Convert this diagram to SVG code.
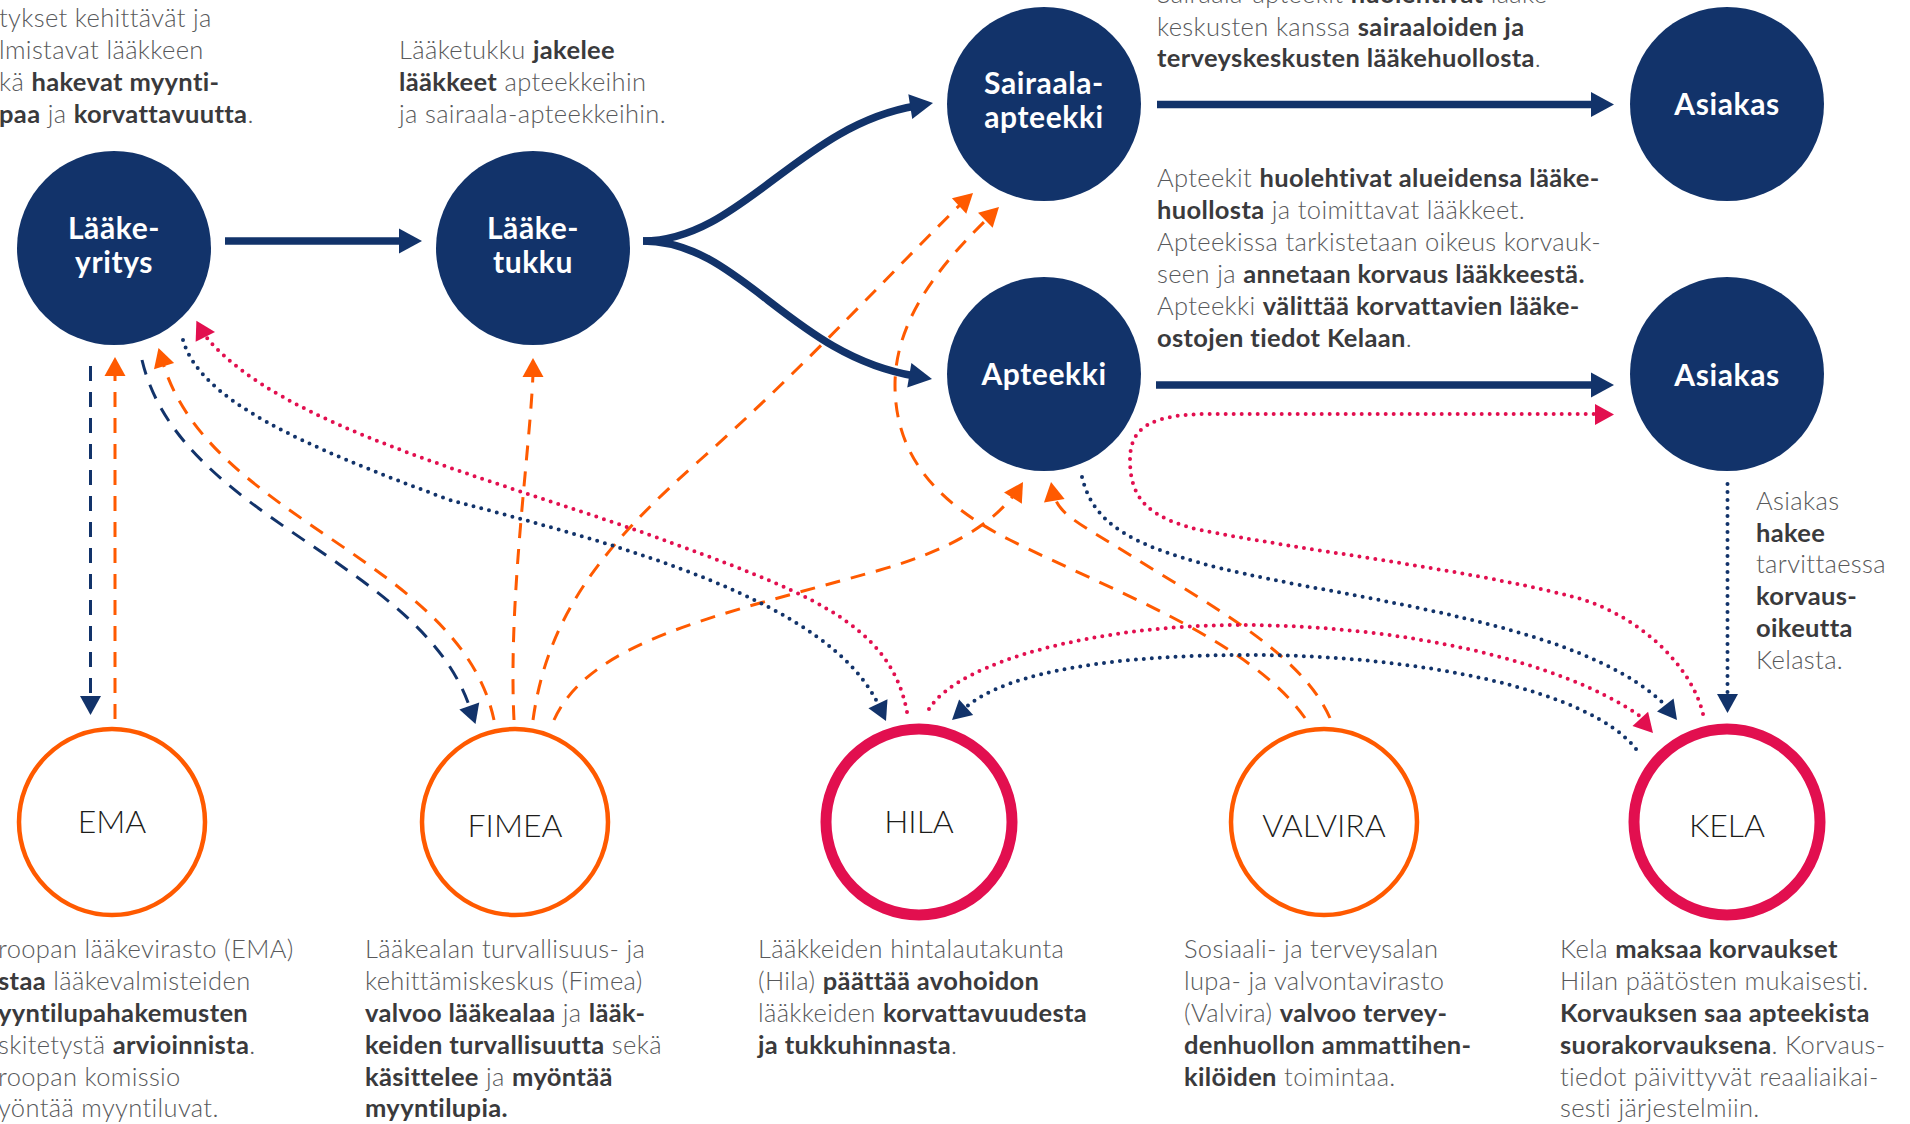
<svg xmlns="http://www.w3.org/2000/svg" xmlns:xlink="http://www.w3.org/1999/xlink" width="1910" height="1124" viewBox="0 0 1910 1124">
<style>
.t{font-family:Lato,"Noto Sans","Liberation Sans",sans-serif;font-size:25.5px;letter-spacing:0.35px;font-weight:300;fill:#58595b}
.b{font-weight:700;fill:#3a3a3c}
.nl{font-family:Lato,"Noto Sans","Liberation Sans",sans-serif;font-size:30px;letter-spacing:0.6px;font-weight:700;fill:#ffffff;text-anchor:middle}
.rl{font-family:Lato,"Noto Sans","Liberation Sans",sans-serif;font-size:32px;font-weight:300;fill:#1d1d1b;text-anchor:middle}
.navy{fill:#12336a}
.ring-o{fill:#ffffff;stroke:#ff5a00;stroke-width:4.5}
.ring-r{fill:#ffffff;stroke:#e20f4f;stroke-width:11}
.thick{fill:none;stroke:#12336a;stroke-width:7.5}
.dn{fill:none;stroke:#12336a;stroke-width:3;stroke-dasharray:15 11}
.do{fill:none;stroke:#ff5a00;stroke-width:3;stroke-dasharray:15 11}
.pn{fill:none;stroke:#12336a;stroke-width:4;stroke-linecap:round;stroke-dasharray:0 8}
.pr{fill:none;stroke:#e20f4f;stroke-width:4;stroke-linecap:round;stroke-dasharray:0 8}
.an{fill:#12336a}
.ao{fill:#ff5a00}
.ar{fill:#e20f4f}
</style>
<defs>
<path id="ah" d="M0,0 L-19,-10.5 L-19,10.5 Z"/>
<path id="ahT" d="M0,0 L-23,-12.5 L-23,12.5 Z"/>
</defs>

<g id="connectors">
<path class="thick" d="M225,241 L405,241"/>
<use xlink:href="#ahT" class="an" transform="translate(422,241)"/>
<path class="thick" d="M643,241 C 740,241 800,125 916,106"/>
<use xlink:href="#ahT" class="an" transform="translate(933,103) rotate(-9)"/>
<path class="thick" d="M643,241 C 740,241 790,355 915,376"/>
<use xlink:href="#ahT" class="an" transform="translate(932,379) rotate(9.5)"/>
<path class="thick" d="M1157,104.5 L1596,104.5"/>
<use xlink:href="#ahT" class="an" transform="translate(1614,104.5)"/>
<path class="thick" d="M1156,385 L1596,385"/>
<use xlink:href="#ahT" class="an" transform="translate(1614,385)"/>

<path class="dn" d="M90.5,366 L90.5,700"/>
<use xlink:href="#ah" class="an" transform="translate(90.5,715) rotate(90)"/>
<path class="do" d="M115,719 L115,372"/>
<use xlink:href="#ah" class="ao" transform="translate(115,357) rotate(-90)"/>

<path class="dn" d="M142,360 C 180,520 420,560 470,708"/>
<use xlink:href="#ah" class="an" transform="translate(475.5,724) rotate(71)"/>
<path class="do" d="M494,720 C 460,560 210,520 163,363"/>
<use xlink:href="#ah" class="ao" transform="translate(158.5,348) rotate(-107)"/>
<path class="do" d="M514,720 C 508,600 530,450 533,374"/>
<use xlink:href="#ah" class="ao" transform="translate(533,358) rotate(-90)"/>
<path class="do" d="M533,720 C 548,610 610,540 700,460 C 800,372 905,258 962,203"/>
<use xlink:href="#ah" class="ao" transform="translate(973,193) rotate(-43)"/>
<path class="do" d="M554,720 C 590,640 720,615 880,570 C 950,550 990,525 1013,496"/>
<use xlink:href="#ah" class="ao" transform="translate(1023,482) rotate(-58)"/>
<path class="do" d="M1305,718 C 1250,640 1110,590 1010,540 C 930,500 895,450 895,385 C 895,320 940,265 987,219"/>
<use xlink:href="#ah" class="ao" transform="translate(999,207) rotate(-44)"/>
<path class="do" d="M1330,718 C 1300,650 1200,600 1130,555 C 1085,527 1060,515 1055,498"/>
<use xlink:href="#ah" class="ao" transform="translate(1051,482) rotate(-100)"/>

<path class="pr" d="M907,712 C 890,620 800,590 650,535 C 480,475 280,425 207,338"/>
<use xlink:href="#ah" class="ar" transform="translate(215,332) rotate(2)"/>
<path class="pn" d="M183,340 C 200,400 300,445 450,500 C 620,545 830,600 879,706"/>
<use xlink:href="#ah" class="an" transform="translate(886,721) rotate(65)"/>
<path class="pn" d="M1636,749 C 1590,690 1420,655 1250,655 C 1120,655 1010,670 966,707"/>
<use xlink:href="#ah" class="an" transform="translate(952,720) rotate(138)"/>
<path class="pr" d="M929,709 C 960,660 1100,625 1240,625 C 1400,625 1560,660 1640,716"/>
<use xlink:href="#ah" class="ar" transform="translate(1653,733) rotate(48)"/>
<path class="pn" d="M1082,477 C 1095,530 1140,555 1300,585 C 1450,613 1600,640 1666,706"/>
<use xlink:href="#ah" class="an" transform="translate(1677,720) rotate(52)"/>
<path class="pn" d="M1727.5,484 L1727.5,697"/>
<use xlink:href="#ah" class="an" transform="translate(1727.5,713) rotate(90)"/>
<path class="pr" d="M1703,714 C 1690,660 1630,610 1570,596 C 1460,568 1300,550 1200,530 C 1150,518 1130,500 1130,460 C 1130,428 1150,414 1210,414 L 1598,414"/>
<use xlink:href="#ah" class="ar" transform="translate(1614,414.5)"/>
</g>

<g id="laakeyritys">
<circle class="navy" cx="114" cy="248" r="97"/>
<text class="nl"><tspan x="114" y="239">Lääke-</tspan><tspan x="114" y="273">yritys</tspan></text>
</g>
<g id="laaketukku">
<circle class="navy" cx="533" cy="248" r="97"/>
<text class="nl"><tspan x="533" y="239">Lääke-</tspan><tspan x="533" y="273">tukku</tspan></text>
</g>
<g id="sairaala-apteekki">
<circle class="navy" cx="1044" cy="104" r="97"/>
<text class="nl"><tspan x="1044" y="94">Sairaala-</tspan><tspan x="1044" y="128">apteekki</tspan></text>
</g>
<g id="apteekki">
<circle class="navy" cx="1044" cy="374" r="97"/>
<text class="nl" x="1044" y="385">Apteekki</text>
</g>
<g id="asiakas1">
<circle class="navy" cx="1727" cy="104" r="97"/>
<text class="nl" x="1727" y="115">Asiakas</text>
</g>
<g id="asiakas2">
<circle class="navy" cx="1727" cy="374" r="97"/>
<text class="nl" x="1727" y="386">Asiakas</text>
</g>

<g id="ema">
<circle class="ring-o" cx="112" cy="822" r="93"/>
<text class="rl" x="112" y="833">EMA</text>
</g>
<g id="fimea">
<circle class="ring-o" cx="515" cy="822" r="93"/>
<text class="rl" x="515" y="837">FIMEA</text>
</g>
<g id="hila">
<circle class="ring-r" cx="919" cy="822" r="93"/>
<text class="rl" x="919" y="833">HILA</text>
</g>
<g id="valvira">
<circle class="ring-o" cx="1324" cy="822" r="93"/>
<text class="rl" x="1324" y="837">VALVIRA</text>
</g>
<g id="kela">
<circle class="ring-r" cx="1727" cy="822" r="93"/>
<text class="rl" x="1727" y="837">KELA</text>
</g>

<g id="text-laakeyritys">
<text class="t"><tspan x="-1" y="27">tykset kehittävät ja</tspan><tspan x="-1" y="59">lmistavat lääkkeen</tspan><tspan x="-1" y="91">kä <tspan class="b">hakevat  myynti-</tspan></tspan><tspan x="-1" y="123"><tspan class="b">paa</tspan> ja <tspan class="b">korvattavuutta</tspan>.</tspan></text>
</g>
<g id="text-laaketukku">
<text class="t"><tspan x="399" y="59">Lääketukku <tspan class="b">jakelee</tspan></tspan><tspan x="399" y="91"><tspan class="b">lääkkeet</tspan> apteekkeihin</tspan><tspan x="399" y="123">ja sairaala-apteekkeihin.</tspan></text>
</g>
<g id="text-sairaala">
<text class="t"><tspan x="1157" y="3">Sairaala-apteekit <tspan class="b">huolehtivat</tspan> lääke-</tspan><tspan x="1157" y="36">keskusten kanssa <tspan class="b">sairaaloiden ja</tspan></tspan><tspan x="1157" y="67"><tspan class="b">terveyskeskusten lääkehuollosta</tspan>.</tspan></text>
</g>
<g id="text-apteekki">
<text class="t"><tspan x="1157" y="187">Apteekit <tspan class="b">huolehtivat alueidensa lääke-</tspan></tspan><tspan x="1157" y="219"><tspan class="b">huollosta</tspan> ja toimittavat lääkkeet.</tspan><tspan x="1157" y="251">Apteekissa tarkistetaan oikeus korvauk-</tspan><tspan x="1157" y="283">seen ja <tspan class="b">annetaan korvaus lääkkeestä.</tspan></tspan><tspan x="1157" y="315">Apteekki <tspan class="b">välittää korvattavien lääke-</tspan></tspan><tspan x="1157" y="347"><tspan class="b">ostojen tiedot Kelaan</tspan>.</tspan></text>
</g>
<g id="text-asiakas">
<text class="t"><tspan x="1756" y="510">Asiakas</tspan><tspan x="1756" y="542" class="b">hakee</tspan><tspan x="1756" y="573">tarvittaessa</tspan><tspan x="1756" y="605" class="b">korvaus-</tspan><tspan x="1756" y="637" class="b">oikeutta</tspan><tspan x="1756" y="669">Kelasta.</tspan></text>
</g>
<g id="text-ema">
<text class="t"><tspan x="-2" y="958">roopan lääkevirasto (EMA)</tspan><tspan x="-2" y="990"><tspan class="b">staa</tspan> lääkevalmisteiden</tspan><tspan x="-2" y="1022" class="b">yyntilupahakemusten</tspan><tspan x="-2" y="1054">skitetystä <tspan class="b">arvioinnista</tspan>.</tspan><tspan x="-2" y="1086">roopan komissio</tspan><tspan x="-2" y="1117">yöntää myyntiluvat.</tspan></text>
</g>
<g id="text-fimea">
<text class="t"><tspan x="365" y="958">Lääkealan turvallisuus- ja</tspan><tspan x="365" y="990">kehittämiskeskus (Fimea)</tspan><tspan x="365" y="1022"><tspan class="b">valvoo lääkealaa</tspan> ja <tspan class="b">lääk-</tspan></tspan><tspan x="365" y="1054"><tspan class="b">keiden turvallisuutta</tspan> sekä</tspan><tspan x="365" y="1086"><tspan class="b">käsittelee</tspan> ja <tspan class="b">myöntää</tspan></tspan><tspan x="365" y="1117" class="b">myyntilupia.</tspan></text>
</g>
<g id="text-hila">
<text class="t"><tspan x="758" y="958">Lääkkeiden hintalautakunta</tspan><tspan x="758" y="990">(Hila) <tspan class="b">päättää avohoidon</tspan></tspan><tspan x="758" y="1022">lääkkeiden <tspan class="b">korvattavuudesta</tspan></tspan><tspan x="758" y="1054"><tspan class="b">ja tukkuhinnasta</tspan>.</tspan></text>
</g>
<g id="text-valvira">
<text class="t"><tspan x="1184" y="958">Sosiaali- ja terveysalan</tspan><tspan x="1184" y="990">lupa- ja valvontavirasto</tspan><tspan x="1184" y="1022">(Valvira) <tspan class="b">valvoo tervey-</tspan></tspan><tspan x="1184" y="1054" class="b">denhuollon ammattihen-</tspan><tspan x="1184" y="1086"><tspan class="b">kilöiden</tspan> toimintaa.</tspan></text>
</g>
<g id="text-kela">
<text class="t"><tspan x="1560" y="958">Kela <tspan class="b">maksaa korvaukset</tspan></tspan><tspan x="1560" y="990">Hilan päätösten mukaisesti.</tspan><tspan x="1560" y="1022" class="b">Korvauksen saa apteekista</tspan><tspan x="1560" y="1054"><tspan class="b">suorakorvauksena</tspan>. Korvaus-</tspan><tspan x="1560" y="1086">tiedot päivittyvät reaaliaikai-</tspan><tspan x="1560" y="1117">sesti järjestelmiin.</tspan></text>
</g>
</svg>
